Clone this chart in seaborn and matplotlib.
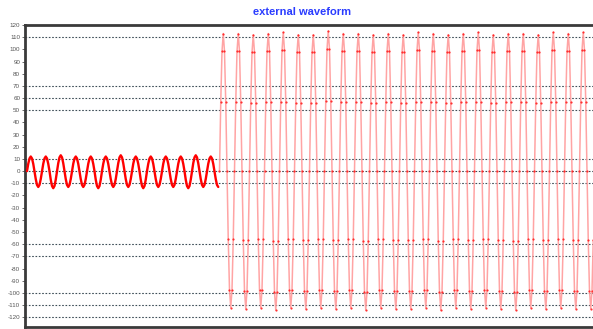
import matplotlib
matplotlib.use('Agg')

import numpy as np
import pandas as pd
import matplotlib.pyplot as plt
import seaborn as sns

# ----------------------------------------------------------------------
# data
# ----------------------------------------------------------------------

# one cycle of the sampled waveform (12 samples, normalised)
cycle_shape = [0.0, 0.5, 0.87, 1.0, 0.87, 0.5, 0.0, -0.5, -0.87, -1.0, -0.87, -0.5]

# small signal: 13 cycles (last one stops at its trough)
small_peaks = [12, 12, 13, 12, 12, 12, 13, 12, 12, 12, 12, 13, 12]
small_troughs = [-13, -14, -13, -13, -14, -13, -13, -14, -13, -13, -14, -13, -13]

# large signal: 25 cycles
big_peaks = [113, 113, 112, 113, 114, 112, 112, 115, 113, 113, 112, 113, 112,
             114, 113, 112, 113, 114, 112, 113, 113, 112, 114, 113, 114]
big_troughs = [-112, -113, -112, -114, -112, -113, -112, -113, -112, -114, -112,
               -113, -113, -112, -114, -112, -113, -112, -113, -114, -112, -113,
               -112, -113, -113]

y_ticks = [120, 110, 100, 90, 80, 70, 60, 50, 40, 30, 20, 10, 0,
           -10, -20, -30, -40, -50, -60, -70, -80, -90, -100, -110, -120]
grid_levels = [110, 70, 60, 50, 10, 0, -10, -60, -70, -100, -110, -120]


def build(peaks, troughs):
    vals = []
    for p, t in zip(peaks, troughs):
        for s in cycle_shape:
            vals.append(s * p if s >= 0 else -s * t)
    return vals


n = len(cycle_shape)
small = build(small_peaks, small_troughs)[:-(n // 4 - 1)]   # ends at last trough
big = build(big_peaks, big_troughs)

small_df = pd.DataFrame({'x': np.arange(len(small)), 'y': small})
big_df = pd.DataFrame({'x': np.arange(len(big)) + len(small), 'y': big})

# pixel scale: one cycle ~ 15 px, first sample at x = 27 px
px = 15 / n
x_left = (25 - 27) / px
x_right = (593 - 27) / px

# ----------------------------------------------------------------------
# plot
# ----------------------------------------------------------------------

sns.set_style('white')
plt.rcParams['font.family'] = ['Liberation Sans', 'DejaVu Sans']

fig = plt.figure(figsize=(5.93, 3.29), dpi=100)
ax = fig.add_axes([25 / 593, 2 / 329, 1 - 25 / 593, (327 - 25) / 329])

for g in grid_levels:
    ax.axhline(g, color='#3e4e58', linestyle=(0, (1.5, 1.5)), linewidth=0.8, zorder=1)

sns.lineplot(data=big_df, x='x', y='y', ax=ax, sort=False,
             color='#ff9a9a', linewidth=1.1, alpha=0.9,
             marker='o', markersize=1.6, markerfacecolor='#ff2020',
             markeredgewidth=0, zorder=2)

sns.lineplot(data=small_df, x='x', y='y', ax=ax, sort=False,
             color='#ff0000', linewidth=1.7, zorder=3)

ax.set_xlim(x_left, x_right)
ax.set_ylim(-128, 120)
ax.set_xticks([])
ax.set_yticks(y_ticks)
ax.set_yticklabels([str(v) for v in y_ticks], fontsize=4.5, color='#555555')
ax.tick_params(axis='y', length=2, width=0.6, color='#555555', pad=1.5, left=True)
ax.set_xlabel('')
ax.set_ylabel('')

for side in ['top', 'left', 'bottom']:
    ax.spines[side].set_color('#3a3a3a')
    ax.spines[side].set_linewidth(2)
ax.spines['right'].set_visible(False)

fig.text(302 / 593, 1 - 12 / 329, 'external waveform', color='#2a3cff',
         fontsize=8, fontweight='bold', ha='center', va='center')

fig.savefig('out.png', dpi=100)
